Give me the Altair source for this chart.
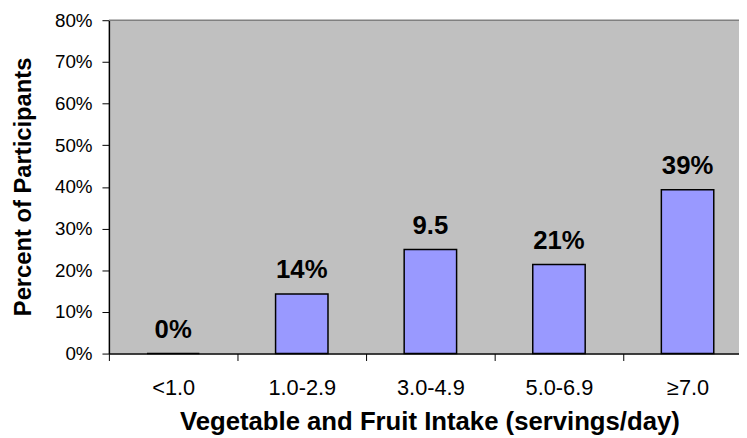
import altair as alt
import pandas as pd

categories = ["<1.0", "1.0-2.9", "3.0-4.9", "5.0-6.9", "≥7.0"]
percents = [0.0, 14.3, 25.0, 21.4, 39.3]
bar_labels = ["0%", "14%", "9.5", "21%", "39%"]
y_ticks = [0, 10, 20, 30, 40, 50, 60, 70, 80]
top_line = [80]

FONT = "Liberation Sans"

idx = list(range(len(categories)))
df = pd.DataFrame({"idx": idx, "cat": categories, "pct": percents, "label": bar_labels})
df_top = pd.DataFrame({"v": top_line})

# category boundaries for the tick marks (between the bands)
boundaries = [i - 0.5 for i in idx]
cat_lookup = "[" + ",".join("'" + c + "'" for c in categories) + "][round(datum.value)]"

x_scale = alt.Scale(domain=[-0.5, 4.4], nice=False, zero=False, padding=0)
y_scale = alt.Scale(domain=[0, 80], nice=False, zero=True)

x_axis_labels = alt.Axis(
    orient="bottom", values=idx, labelExpr=cat_lookup,
    title="Vegetable and Fruit Intake (servings/day)",
    titleFont=FONT, titleFontSize=26, titleFontWeight="bold", titleColor="black",
    titleX=324, titleY=77, titleBaseline="alphabetic", titleAlign="center",
    labelFont=FONT, labelFontSize=22, labelColor="black", labelAngle=0, labelPadding=17,
    labelFlush=False, labelOverlap=False,
    tickSize=7, tickOpacity=0,
    domainColor="black", domainWidth=1.5, grid=False,
)
x_axis_ticks = alt.Axis(
    orient="bottom", values=boundaries, labels=False, title="",
    tickSize=7, tickColor="black", tickWidth=1, domain=False, grid=False,
)
y_axis = alt.Axis(
    title="Percent of Participants",
    titleFont=FONT, titleFontSize=24, titleFontWeight="bold", titleColor="black",
    titleX=-86, titleY=168, titleAngle=270, titleAlign="center", titleBaseline="middle",
    labelFont=FONT, labelFontSize=19, labelColor="black", labelPadding=10,
    labelExpr="datum.value + '%'", values=y_ticks,
    tickSize=7, tickColor="black", tickWidth=1,
    domainColor="black", domainWidth=1.5, grid=False,
)

top = alt.Chart(df_top).mark_rule(color="#808080", strokeWidth=1.5).encode(
    y=alt.Y("v:Q", scale=y_scale, axis=y_axis),
)

bars = alt.Chart(df).mark_bar(size=53, color="#9999FF", stroke="black", strokeWidth=1.5).encode(
    x=alt.X("idx:Q", scale=x_scale, axis=x_axis_labels),
    y=alt.Y("pct:Q", scale=y_scale, axis=y_axis),
)

text = alt.Chart(df).mark_text(
    font=FONT, fontSize=26, fontWeight="bold", color="black", baseline="alphabetic", dy=-16
).encode(
    x=alt.X("idx:Q", scale=x_scale, axis=None),
    y=alt.Y("pct:Q", scale=y_scale, axis=y_axis),
    text="label:N",
)

ticks_layer = alt.Chart(df).mark_point(opacity=0).encode(
    x=alt.X("idx:Q", scale=x_scale, axis=x_axis_ticks),
    y=alt.Y("pct:Q", scale=y_scale, axis=y_axis),
)

chart = alt.layer(top, bars, text, ticks_layer).resolve_axis(x="independent").properties(
    width=637, height=337,
    padding={"left": 102, "top": 10, "right": 0, "bottom": 83},
    autosize=alt.AutoSizeParams(type="none"),
    background="white",
).configure_view(stroke=None, fill="#C0C0C0")

chart.save("out.html", embed_options={"renderer": "svg", "actions": False})
